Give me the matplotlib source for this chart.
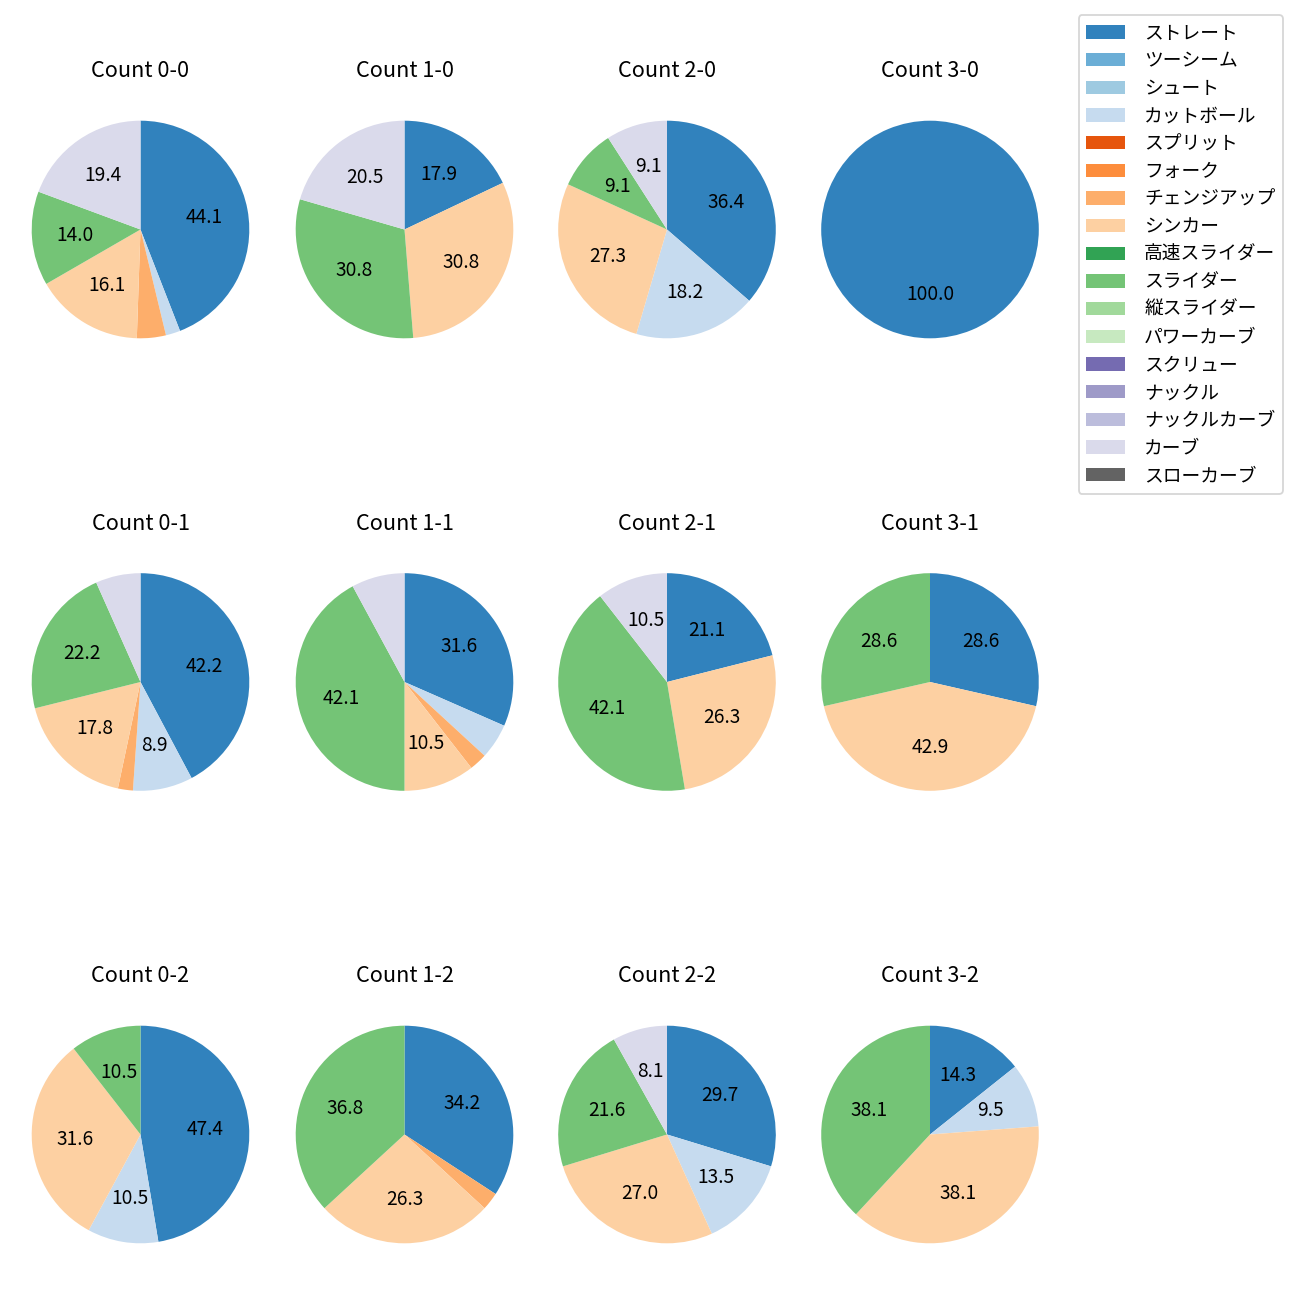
import numpy as np
import matplotlib
matplotlib.use('Agg')
import matplotlib.pyplot as plt
from matplotlib.patches import Patch

plt.rcParams['font.family'] = ['Noto Sans CJK JP', 'DejaVu Sans']

# pitch types in legend order
pitch_types = ['ストレート', 'ツーシーム', 'シュート', 'カットボール', 'スプリット', 'フォーク',
               'チェンジアップ', 'シンカー', '高速スライダー', 'スライダー', '縦スライダー',
               'パワーカーブ', 'スクリュー', 'ナックル', 'ナックルカーブ', 'カーブ', 'スローカーブ']

# pitch counts per ball-strike count (same order as pitch_types)
c_0_0 = [41, 0, 0, 2, 0, 0, 4, 15, 0, 13, 0, 0, 0, 0, 0, 18, 0]
c_1_0 = [7, 0, 0, 0, 0, 0, 0, 12, 0, 12, 0, 0, 0, 0, 0, 8, 0]
c_2_0 = [4, 0, 0, 2, 0, 0, 0, 3, 0, 1, 0, 0, 0, 0, 0, 1, 0]
c_3_0 = [1, 0, 0, 0, 0, 0, 0, 0, 0, 0, 0, 0, 0, 0, 0, 0, 0]
c_0_1 = [19, 0, 0, 4, 0, 0, 1, 8, 0, 10, 0, 0, 0, 0, 0, 3, 0]
c_1_1 = [12, 0, 0, 2, 0, 0, 1, 4, 0, 16, 0, 0, 0, 0, 0, 3, 0]
c_2_1 = [4, 0, 0, 0, 0, 0, 0, 5, 0, 8, 0, 0, 0, 0, 0, 2, 0]
c_3_1 = [2, 0, 0, 0, 0, 0, 0, 3, 0, 2, 0, 0, 0, 0, 0, 0, 0]
c_0_2 = [9, 0, 0, 2, 0, 0, 0, 6, 0, 2, 0, 0, 0, 0, 0, 0, 0]
c_1_2 = [13, 0, 0, 0, 0, 0, 1, 10, 0, 14, 0, 0, 0, 0, 0, 0, 0]
c_2_2 = [11, 0, 0, 5, 0, 0, 0, 10, 0, 8, 0, 0, 0, 0, 0, 3, 0]
c_3_2 = [3, 0, 0, 2, 0, 0, 0, 8, 0, 8, 0, 0, 0, 0, 0, 0, 0]

grid = [
    [('Count 0-0', c_0_0), ('Count 1-0', c_1_0), ('Count 2-0', c_2_0), ('Count 3-0', c_3_0)],
    [('Count 0-1', c_0_1), ('Count 1-1', c_1_1), ('Count 2-1', c_2_1), ('Count 3-1', c_3_1)],
    [('Count 0-2', c_0_2), ('Count 1-2', c_1_2), ('Count 2-2', c_2_2), ('Count 3-2', c_3_2)],
]

colors = plt.cm.tab20c(np.arange(len(pitch_types)))

W = 1300.0
col_cx = [140.5, 404.5, 667, 930]
row_cy = [229.5, 682, 1134.5]
side = 272.0

fig = plt.figure(figsize=(10, 10), dpi=130)

for r, row in enumerate(grid):
    for c, (title, vals) in enumerate(row):
        cx, cy = col_cx[c], row_cy[r]
        ax = fig.add_axes([(cx - side / 2) / W, 1 - (cy + side / 2) / W, side / W, side / W])
        idx = [i for i, v in enumerate(vals) if v > 0]
        ax.pie([vals[i] for i in idx], colors=[colors[i] for i in idx],
               startangle=90, counterclock=False,
               autopct=lambda p: f'{p:.1f}' if p >= 8 else '',
               textprops={'fontsize': 10.6})
        ax.set_title(title, pad=9)

handles = [Patch(facecolor=colors[i]) for i in range(len(pitch_types))]
fig.legend(handles, pitch_types, loc='upper right', bbox_to_anchor=(1283 / W, 1 - 15 / W),
           borderaxespad=0, fontsize=10.4, labelspacing=0.355,
           handlelength=2.1, handletextpad=1.0)

plt.savefig('out.png', dpi=130)
